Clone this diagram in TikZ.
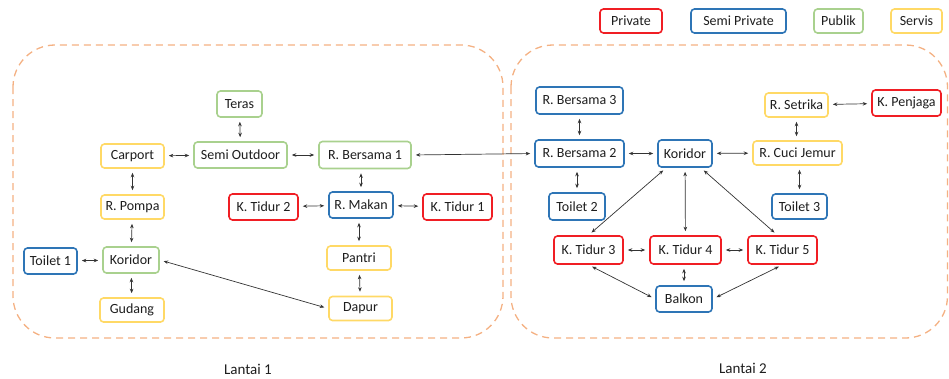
\documentclass[tikz,border=0pt]{standalone}
\usepackage{fontspec}
\setmainfont{Carlito}
\usetikzlibrary{arrows.meta}
\definecolor{cred}{RGB}{240,30,36}
\definecolor{cblue}{RGB}{46,117,182}
\definecolor{cgreen}{RGB}{169,209,142}
\definecolor{cyellow}{RGB}{255,217,102}
\definecolor{corange}{RGB}{244,177,131}
\definecolor{ctext}{RGB}{30,30,30}
\begin{document}
\begin{tikzpicture}[x=1pt,y=-1pt,
  room/.style={draw, rounded corners=3.5pt, line width=1.6pt, inner sep=0pt,
    minimum height=25pt, font=\fontsize{14}{16}\selectfont, text=ctext, fill=white},
  prv/.style={room, draw=cred},
  semi/.style={room, draw=cblue},
  pub/.style={room, draw=cgreen},
  srv/.style={room, draw=cyellow},
  zone/.style={draw=corange, line width=1.3pt, dash pattern=on 7pt off 5pt, rounded corners=42pt},
  conn/.style={{Stealth[length=4.5pt,width=3.6pt]}-{Stealth[length=4.5pt,width=3.6pt]},
    line width=0.7pt, draw=black!80, shorten >=4pt, shorten <=4pt},
  lbl/.style={font=\fontsize{15}{17}\selectfont, text=ctext}]
\useasboundingbox (0,0) rectangle (949,378);

% zones
\draw[zone] (13,45) rectangle (503,338);
\draw[zone] (511,45) rectangle (947.5,338);

% legend
\node[prv, minimum width=62pt, minimum height=24pt] (lgp) at (631,21) {Private};
\node[semi, minimum width=95pt, minimum height=24pt] (lgs) at (738.5,21) {Semi Private};
\node[pub, minimum width=49pt, minimum height=24pt] (lgu) at (838.5,21) {Publik};
\node[srv, minimum width=51pt, minimum height=24pt] (lgv) at (916.5,21) {Servis};

% Lantai 1
\node[pub, minimum width=45pt, minimum height=26pt] (teras) at (239.5,104) {Teras};
\node[srv, minimum width=63pt, minimum height=24pt] (carport) at (132.5,156) {Carport};
\node[pub, minimum width=93pt, minimum height=26pt] (semiout) at (240.5,155) {Semi Outdoor};
\node[pub, minimum width=92pt, minimum height=27pt] (rb1) at (365,155) {R. Bersama 1};
\node[srv, minimum width=63pt, minimum height=24pt] (pompa) at (132.5,207) {R. Pompa};
\node[prv, minimum width=69pt, minimum height=26pt] (kt2) at (263.5,207) {K. Tidur 2};
\node[semi, minimum width=64pt, minimum height=26pt] (makan) at (361,205) {R. Makan};
\node[prv, minimum width=69pt, minimum height=26pt] (kt1) at (457.5,207) {K. Tidur 1};
\node[semi, minimum width=53pt, minimum height=26pt] (toilet1) at (50.5,261) {Toilet 1};
\node[pub, minimum width=56pt, minimum height=26pt] (kor1) at (131,260) {Koridor};
\node[srv, minimum width=64pt, minimum height=24pt] (gudang) at (132,310) {Gudang};
\node[srv, minimum width=64pt, minimum height=24pt] (pantri) at (359,258) {Pantri};
\node[srv, minimum width=63pt, minimum height=24pt] (dapur) at (360.5,308.5) {Dapur};
\node[lbl] (l1) at (248,369) {Lantai 1};

% Lantai 2
\node[semi, minimum width=87pt, minimum height=27pt] (rb3) at (579.5,100.5) {R. Bersama 3};
\node[semi, minimum width=89pt, minimum height=27pt] (rb2) at (579.5,153.5) {R. Bersama 2};
\node[semi, minimum width=54pt, minimum height=27pt] (kor2) at (685,153.5) {Koridor};
\node[srv, minimum width=63pt, minimum height=24pt] (setrika) at (796.5,105) {R. Setrika};
\node[prv, minimum width=69pt, minimum height=26pt] (penjaga) at (906.5,103) {K. Penjaga};
\node[srv, minimum width=89pt, minimum height=24pt] (cuci) at (797.5,153) {R. Cuci Jemur};
\node[semi, minimum width=56pt, minimum height=27pt] (toilet2) at (577,206.5) {Toilet 2};
\node[semi, minimum width=55pt, minimum height=25pt] (toilet3) at (799.5,206.5) {Toilet 3};
\node[prv, minimum width=69pt, minimum height=28pt] (kt3) at (588.5,250) {K. Tidur 3};
\node[prv, minimum width=71pt, minimum height=28pt] (kt4) at (685.5,250) {K. Tidur 4};
\node[prv, minimum width=69pt, minimum height=28pt] (kt5) at (782.5,250) {K. Tidur 5};
\node[semi, minimum width=56pt, minimum height=26pt] (balkon) at (684,299) {Balkon};
\node[lbl] (l2) at (743,368) {Lantai 2};

% connectors Lantai 1
\draw[conn] (teras) -- (semiout);
\draw[conn] (carport) -- (semiout);
\draw[conn] (semiout) -- (rb1);
\draw[conn] (rb1.east) -- (rb2.west);
\draw[conn] (carport) -- (pompa);
\draw[conn] (rb1.south -| makan) -- (makan);
\draw[conn] (kt2) -- (makan);
\draw[conn] (makan) -- (kt1);
\draw[conn] (pompa) -- (kor1);
\draw[conn] (makan.south -| pantri) -- (pantri);
\draw[conn] (toilet1) -- (kor1);
\draw[conn] (kor1) -- (gudang);
\draw[conn] (kor1.east) -- (dapur.west);
\draw[conn] (pantri) -- (dapur);

% connectors Lantai 2
\draw[conn] (rb3) -- (rb2);
\draw[conn] (rb2) -- (kor2);
\draw[conn] (rb2.south -| toilet2) -- (toilet2);
\draw[conn] (kor2) -- (cuci);
\draw[conn] (setrika) -- (penjaga);
\draw[conn] (setrika) -- (cuci.north -| setrika);
\draw[conn] (cuci.south -| toilet3) -- (toilet3);
\draw[conn] ([xshift=9pt]kor2.south west) -- (kt3.north);
\draw[conn] (kor2) -- (kt4);
\draw[conn] ([xshift=-12pt]kor2.south east) -- ([xshift=-5pt]kt5.north);
\draw[conn] (kt3) -- (kt4);
\draw[conn] (kt4) -- (kt5);
\draw[conn] (kt3.south) -- (balkon.west);
\draw[conn] (kt4.south -| balkon) -- (balkon);
\draw[conn] (kt5.south) -- (balkon.east);
\end{tikzpicture}
\end{document}
